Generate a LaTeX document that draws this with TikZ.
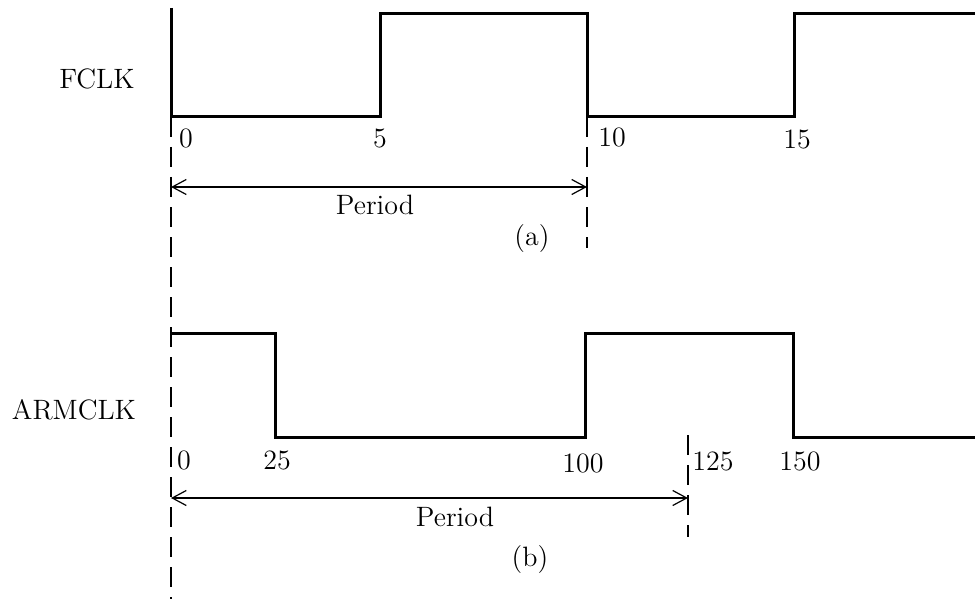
\documentclass[tikz,border=0pt]{standalone}
\usetikzlibrary{arrows.meta}

\begin{document}
\begin{tikzpicture}[
  x=0.5pt, y=-0.5pt,
  wave/.style={line width=1.5pt, line join=miter},
  guide/.style={line width=1pt, dash pattern=on 10pt off 5pt},
  period/.style={{Straight Barb[length=7pt,width=7.5pt]}-{Straight Barb[length=7pt,width=7.5pt]}, line width=0.6pt},
  lbl/.style={font=\fontsize{14}{16}\selectfont, inner sep=0pt}
]
\useasboundingbox (0,0) rectangle (975,599);

% (a) FCLK
\node[lbl] (fclk) at (97,79) {FCLK};
\draw[wave] (171,8) -- (171,117) -- (380,117) -- (380,14) -- (587,14) -- (587,117) -- (794,117) -- (794,14) -- (975,14);
\node[lbl] (fa0) at (186,138) {0};
\node[lbl] (fa5) at (380,138) {5};
\node[lbl] (fa10) at (612,137) {10};
\node[lbl] (fa15) at (797,139) {15};
\draw[guide] (171,117) -- (171,599);
\draw[guide] (587,117) -- (587,248);
\coordinate (pa0) at (171,187);
\coordinate (pa1) at (587,187);
\draw[period] (pa0) -- (pa1);
\node[lbl] (pera) at (375,205) {Period};
\node[lbl] (capa) at (532,239) {(a)};

% (b) ARMCLK
\node[lbl] (armclk) at (74,410) {ARMCLK};
\draw[wave] (171,333) -- (275,333) -- (275,437) -- (585,437) -- (585,333) -- (793,333) -- (793,437) -- (975,437);
\node[lbl] (fb0) at (184,460) {0};
\node[lbl] (fb25) at (277,460) {25};
\node[lbl] (fb100) at (583,463) {100};
\node[lbl] (fb125) at (713,461) {125};
\node[lbl] (fb150) at (800,461) {150};
\draw[guide] (688,435) -- (688,537);
\coordinate (pb0) at (171,498);
\coordinate (pb1) at (688,498);
\draw[period] (pb0) -- (pb1);
\node[lbl] (perb) at (455,517) {Period};
\node[lbl] (capb) at (530,560) {(b)};
\end{tikzpicture}
\end{document}
